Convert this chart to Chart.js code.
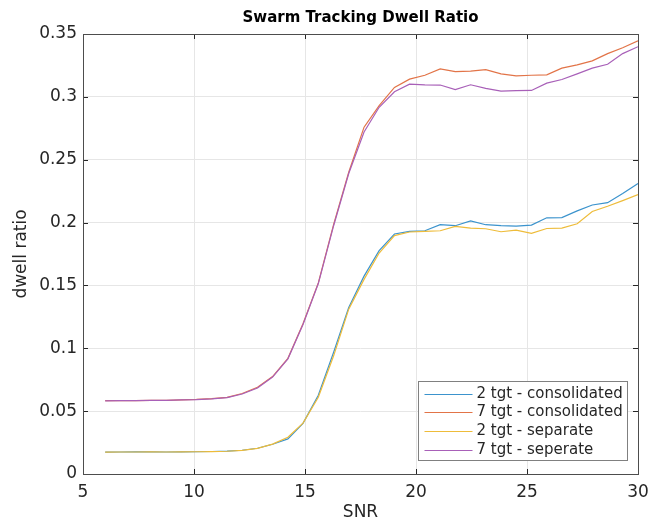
<!DOCTYPE html>
<html>
<head>
<meta charset="utf-8">
<script src="https://cdn.jsdelivr.net/npm/chart.js@4.4.1/dist/chart.umd.min.js"></script>
<style>
  html, body { margin: 0; padding: 0; background: #fff; }
  #wrap { width: 664px; height: 523px; }
</style>
</head>
<body>
<div id="wrap"><canvas id="grafico"></canvas></div>
<script>
// SNR sample points
const snr = [6.00, 6.69, 7.37, 8.06, 8.74, 9.43, 10.11, 10.80, 11.49, 12.17, 12.86, 13.54,
             14.23, 14.91, 15.60, 16.29, 16.97, 17.66, 18.34, 19.03, 19.71, 20.40, 21.09, 21.77,
             22.46, 23.14, 23.83, 24.51, 25.20, 25.89, 26.57, 27.26, 27.94, 28.63, 29.31, 30.00]

const tgt2_consolidated = [0.0174, 0.0175, 0.0176, 0.0176, 0.0175, 0.0176, 0.0177, 0.0179, 0.0182, 0.0189, 0.0205, 0.0237,
                           0.0279, 0.0403, 0.0626, 0.0969, 0.1324, 0.1574, 0.1777, 0.1909, 0.1930, 0.1935, 0.1983, 0.1975,
                           0.2014, 0.1983, 0.1975, 0.1972, 0.1980, 0.2038, 0.2040, 0.2093, 0.2140, 0.2158, 0.2232, 0.2311]

const tgt7_consolidated = [0.0583, 0.0584, 0.0584, 0.0585, 0.0586, 0.0589, 0.0593, 0.0600, 0.0610, 0.0640, 0.0690, 0.0775,
                           0.0920, 0.1195, 0.1520, 0.1985, 0.2400, 0.2759, 0.2930, 0.3075, 0.3141, 0.3172, 0.3222, 0.3201,
                           0.3204, 0.3217, 0.3183, 0.3167, 0.3172, 0.3175, 0.3228, 0.3254, 0.3286, 0.3344, 0.3391, 0.3446]

const tgt2_separate     = [0.0174, 0.0175, 0.0175, 0.0176, 0.0175, 0.0176, 0.0177, 0.0178, 0.0181, 0.0188, 0.0204, 0.0238,
                           0.0292, 0.0405, 0.0610, 0.0940, 0.1311, 0.1548, 0.1758, 0.1896, 0.1925, 0.1930, 0.1935, 0.1969,
                           0.1956, 0.1951, 0.1927, 0.1940, 0.1914, 0.1953, 0.1956, 0.1990, 0.2088, 0.2130, 0.2175, 0.2222]

const tgt7_separate     = [0.0582, 0.0583, 0.0584, 0.0585, 0.0586, 0.0589, 0.0592, 0.0598, 0.0607, 0.0636, 0.0684, 0.0771,
                           0.0916, 0.1190, 0.1515, 0.1975, 0.2390, 0.2720, 0.2917, 0.3040, 0.3101, 0.3096, 0.3094, 0.3057,
                           0.3096, 0.3067, 0.3046, 0.3049, 0.3051, 0.3109, 0.3138, 0.3183, 0.3228, 0.3259, 0.3344, 0.3399]

const series_names  = ["2 tgt - consolidated", "7 tgt - consolidated", "2 tgt - separate", "7 tgt - seperate"]
const series_colors = ["#3b93cd", "#e27448", "#eebc3a", "#a860b8"]
const series_values = [tgt2_consolidated, tgt7_consolidated, tgt2_separate, tgt7_separate]

const x_ticks = [5, 10, 15, 20, 25, 30]
const y_ticks = [0, 0.05, 0.1, 0.15, 0.2, 0.25, 0.3, 0.35]

const cor_texto = "#262626"
const fonte     = "DejaVu Sans"

const pontos = function (values) {
    return values.map((v, i) => ({ x: snr[i], y: v }))
}

// caixa dos eixos com marcas para dentro + legenda no canto inferior direito
const caixaEixos = {
    id: "caixaEixos",
    afterDatasetsDraw(chart) {
        const ctx  = chart.ctx
        const area = chart.chartArea
        const sx   = chart.scales.x
        const sy   = chart.scales.y
        const tam  = 5

        ctx.save()
        ctx.strokeStyle = cor_texto
        ctx.lineWidth = 1
        ctx.beginPath()
        x_ticks.forEach((t) => {
            const px = Math.round(sx.getPixelForValue(t)) + 0.5
            ctx.moveTo(px, area.bottom); ctx.lineTo(px, area.bottom - tam)
            ctx.moveTo(px, area.top);    ctx.lineTo(px, area.top + tam)
        })
        y_ticks.forEach((t) => {
            const py = Math.round(sy.getPixelForValue(t)) + 0.5
            ctx.moveTo(area.left, py);  ctx.lineTo(area.left + tam, py)
            ctx.moveTo(area.right, py); ctx.lineTo(area.right - tam, py)
        })
        ctx.stroke()
        ctx.strokeStyle = "#4d4d4d"
        ctx.strokeRect(Math.round(area.left) + 0.5, Math.round(area.top) + 0.5,
                       Math.round(area.right - area.left), Math.round(area.bottom - area.top))

        // legenda
        const lw = 209, lh = 79
        const lx = Math.round(area.right) - 11 - lw + 0.5
        const ly = Math.round(area.bottom) - 14 - lh + 0.5
        ctx.fillStyle = "#fff"
        ctx.fillRect(lx, ly, lw, lh)
        ctx.strokeStyle = "#808080"
        ctx.strokeRect(lx, ly, lw, lh)
        ctx.font = "15px '" + fonte + "'"
        ctx.textBaseline = "middle"
        ctx.textAlign = "left"
        ctx.lineWidth = 1.2
        series_names.forEach((nome, i) => {
            const y = Math.round(ly + 12 + i * 18.8) + 0.5
            ctx.strokeStyle = series_colors[i]
            ctx.beginPath()
            ctx.moveTo(lx + 6, y); ctx.lineTo(lx + 54, y)
            ctx.stroke()
            ctx.fillStyle = cor_texto
            ctx.fillText(nome, lx + 58, y)
        })
        ctx.restore()
    }
}

// a ultima serie fica por cima (order menor = desenhado por ultimo)
const datasets = series_names.map((nome, i) => ({
    label: nome,
    data: pontos(series_values[i]),
    borderColor: series_colors[i],
    backgroundColor: series_colors[i],
    borderWidth: 1.2,
    pointRadius: 0,
    tension: 0,
    fill: false,
    order: series_names.length - i
}))

new Chart(document.getElementById("grafico"), {
    type: "line",
    data: { datasets: datasets },
    plugins: [caixaEixos],
    options: {
        responsive: true,
        maintainAspectRatio: false,
        animation: false,
        layout: { padding: { left: 0, right: 26, top: 0, bottom: 0 } },
        plugins: {
            legend: { display: false },
            tooltip: { enabled: false },
            title: {
                display: true,
                text: "Swarm Tracking Dwell Ratio",
                fullSize: false,
                color: "#000",
                font: { family: fonte, size: 15, weight: "bold", lineHeight: 1.2 },
                padding: { top: 9, bottom: 7 }
            }
        },
        scales: {
            x: {
                type: "linear",
                min: 5, max: 30,
                afterBuildTicks: (s) => { s.ticks = x_ticks.map((v) => ({ value: v })) },
                afterFit: (s) => { s.height = 49 },
                grid: { color: "#e6e6e6", drawTicks: false },
                border: { display: false },
                ticks: { color: cor_texto, padding: 8, font: { family: fonte, size: 17 } },
                title: { display: true, text: "SNR", color: cor_texto, padding: { top: 0, bottom: 0 },
                         font: { family: fonte, size: 17 } }
            },
            y: {
                type: "linear",
                min: 0, max: 0.35,
                afterBuildTicks: (s) => { s.ticks = y_ticks.map((v) => ({ value: v })) },
                afterFit: (s) => { s.width = 83 },
                grid: { color: "#e6e6e6", drawTicks: false },
                border: { display: false },
                ticks: { color: cor_texto, padding: 6, font: { family: fonte, size: 17 },
                         callback: (v) => String(parseFloat(v.toFixed(2))) },
                title: { display: true, text: "dwell ratio", color: cor_texto, padding: { top: 11, bottom: 0 },
                         font: { family: fonte, size: 17 } }
            }
        }
    }
})
</script>
</body>
</html>
